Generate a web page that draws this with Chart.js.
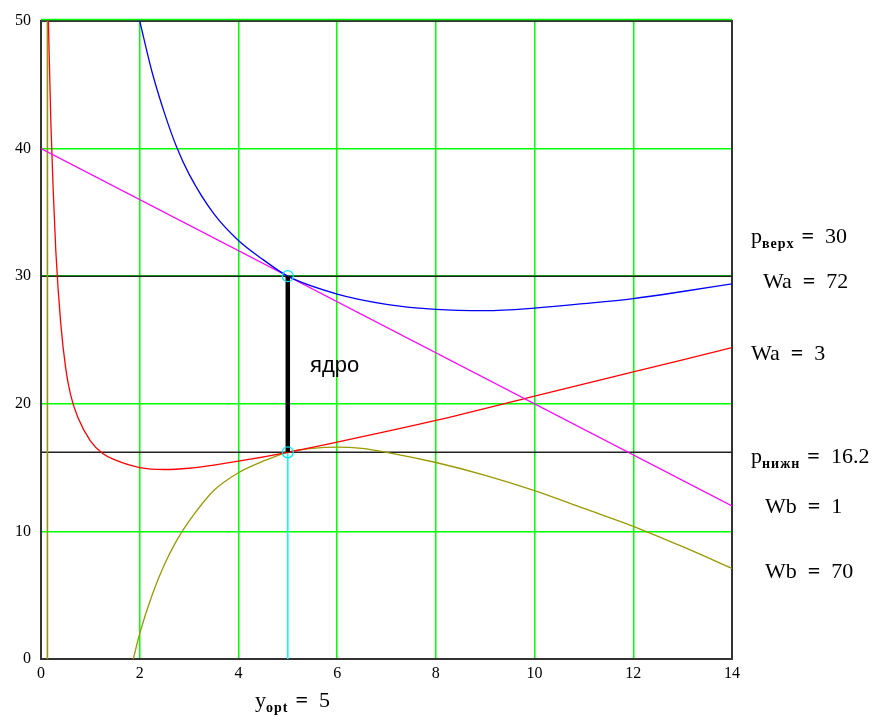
<!DOCTYPE html>
<html>
<head>
<meta charset="utf-8">
<script src="https://cdn.jsdelivr.net/npm/chart.js@4.4.1/dist/chart.umd.min.js"></script>
<style>
  html, body { margin: 0; padding: 0; background: #ffffff; }
  #wrap { width: 874px; height: 717px; position: relative; }
</style>
</head>
<body>
<div id="wrap"><canvas id="c" width="874" height="717"></canvas></div>
<script>
// ---- data ----
const xTicks = [0, 2, 4, 6, 8, 10, 12, 14];
const yTicks = [0, 10, 20, 30, 40, 50];

const blueX = [2.0, 2.25, 2.5, 2.75, 3.0, 3.5, 4.0, 4.5, 5.0, 6.0, 7.0, 8.0, 9.0, 10.0, 11.0, 12.0, 13.0, 14.0];
const blueY = [50, 46.0, 42.8, 40.1, 38.0, 34.9, 32.8, 31.3, 30.0, 28.6, 27.8, 27.4, 27.3, 27.5, 27.85, 28.25, 28.8, 29.4];

const magentaX = [0, 14];
const magentaY = [40, 12];

const redX = [0.15, 0.2, 0.25, 0.3, 0.4, 0.5, 0.6, 0.75, 1.0, 1.25, 1.5, 2.0, 2.5, 3.0, 3.5, 4.0, 5.0, 6.0, 8.0, 10.0, 12.0, 14.0];
const redY = [50, 42, 36.5, 32, 26.3, 22.8, 20.7, 18.9, 17.1, 16.1, 15.6, 15.0, 14.85, 14.95, 15.2, 15.5, 16.2, 17.0, 18.7, 20.6, 22.5, 24.4];

const oliveVertX = [0.13, 0.13];
const oliveVertY = [0, 50];

const oliveX = [1.87, 2.0, 2.25, 2.5, 2.75, 3.0, 3.5, 4.0, 4.5, 5.0, 5.5, 6.0, 6.5, 7.0, 8.0, 9.0, 10.0, 11.0, 12.0, 13.0, 14.0];
const oliveY = [0, 2.0, 5.0, 7.4, 9.3, 10.8, 13.2, 14.6, 15.5, 16.2, 16.5, 16.6, 16.5, 16.2, 15.4, 14.4, 13.2, 11.8, 10.4, 8.8, 7.1];

const pUpper = 30;
const pLower = 16.2;
const yOpt = 5;
const lineRange = [0, 14];

const pts = (xs, ys) => xs.map((x, i) => ({ x: x, y: ys[i] }));

// ---- text annotations ----
const SERIF = '"Liberation Serif", "Times New Roman", serif';
const SP = '\u2002';
function setLS(ctx, v) { if ('letterSpacing' in ctx) ctx.letterSpacing = v; }
function drawEq(ctx, x, y, left, right) {
  // left part, bold "=", right part
  ctx.font = '22px ' + SERIF;
  ctx.fillText(left + SP, x, y);
  let w = ctx.measureText(left + SP).width;
  ctx.font = 'bold 22px ' + SERIF;
  ctx.fillText('=', x + w, y);
  w += ctx.measureText('=').width;
  ctx.font = '22px ' + SERIF;
  ctx.fillText(SP + right, x + w, y);
}
function drawSub(ctx, x, y, main, sub, right) {
  ctx.font = '22px ' + SERIF;
  setLS(ctx, '0px');
  ctx.fillText(main, x, y);
  let w = ctx.measureText(main).width;
  ctx.font = 'bold 14px ' + SERIF;
  setLS(ctx, '1px');
  ctx.fillText(sub, x + w, y + 5);
  w += ctx.measureText(sub).width;
  setLS(ctx, '0px');
  drawEq(ctx, x + w - 4, y, '', right);
}

const annotPlugin = {
  id: 'annot',
  beforeDatasetsDraw(chart) {
    const { ctx, chartArea: a } = chart;
    ctx.save();
    ctx.strokeStyle = '#333333';
    ctx.lineWidth = 2;
    ctx.strokeRect(a.left, a.top, a.right - a.left, a.bottom - a.top);
    ctx.strokeStyle = '#00ff00';
    ctx.lineWidth = 1.5;
    ctx.beginPath();
    ctx.moveTo(a.left, a.top - 1.5);
    ctx.lineTo(a.right, a.top - 1.5);
    ctx.stroke();
    ctx.restore();
  },
  afterDraw(chart) {
    const { ctx } = chart;
    ctx.save();
    ctx.fillStyle = '#000000';
    ctx.textBaseline = 'alphabetic';
    ctx.textAlign = 'left';
    drawSub(ctx, 751, 243, 'p', 'верх', '30');
    drawEq(ctx, 763, 288, 'Wa', '72');
    drawEq(ctx, 751, 360, 'Wa', '3');
    drawSub(ctx, 751, 463, 'p', 'нижн', '16.2');
    drawEq(ctx, 765, 513, 'Wb', '1');
    drawEq(ctx, 765, 578, 'Wb', '70');
    drawSub(ctx, 255, 707, 'y', 'opt', '5');
    ctx.font = '22px "Liberation Sans", Arial, sans-serif';
    ctx.fillText('ядро', 310, 372);
    ctx.restore();
  }
};

const base = { fill: false, pointRadius: 0, showLine: true, borderWidth: 1.3 };

new Chart(document.getElementById('c'), {
  type: 'scatter',
  data: {
    datasets: [
      { ...base, label: 'circles', data: [{ x: yOpt, y: pUpper }, { x: yOpt, y: pLower }], showLine: false,
        pointRadius: 5.5, pointStyle: 'circle', pointBorderColor: '#00e5ff', pointBackgroundColor: 'rgba(0,0,0,0)', pointBorderWidth: 1.3 },
      { ...base, label: 'core', data: [{ x: yOpt, y: pLower }, { x: yOpt, y: pUpper }], borderColor: '#000000', borderWidth: 4.5 },
      { ...base, label: 'blue', data: pts(blueX, blueY), borderColor: '#0000ff', cubicInterpolationMode: 'monotone' },
      { ...base, label: 'magenta', data: pts(magentaX, magentaY), borderColor: '#ff00ff' },
      { ...base, label: 'red', data: pts(redX, redY), borderColor: '#ff0000', cubicInterpolationMode: 'monotone' },
      { ...base, label: 'olive', data: pts(oliveX, oliveY), borderColor: '#999900', cubicInterpolationMode: 'monotone' },
      { ...base, label: 'oliveV', data: pts(oliveVertX, oliveVertY), borderColor: '#999900', borderWidth: 1.6 },
      { ...base, label: 'pUp', data: [{ x: lineRange[0], y: pUpper }, { x: lineRange[1], y: pUpper }], borderColor: '#222222', borderWidth: 1.6 },
      { ...base, label: 'pLow', data: [{ x: lineRange[0], y: pLower }, { x: lineRange[1], y: pLower }], borderColor: '#222222', borderWidth: 1.6 },
      { ...base, label: 'cyan', data: [{ x: yOpt, y: 0 }, { x: yOpt, y: pLower }], borderColor: '#00ffff', borderWidth: 1.6 }
    ]
  },
  options: {
    responsive: false,
    animation: false,
    devicePixelRatio: 1,
    layout: { padding: { left: 0, top: 21, right: 142, bottom: 0 } },
    plugins: { legend: { display: false }, tooltip: { enabled: false } },
    scales: {
      x: {
        type: 'linear', min: 0, max: 14,
        afterBuildTicks: (s) => { s.ticks = xTicks.map(v => ({ value: v })); },
        afterFit: (s) => { s.height = 58; },
        ticks: { color: '#000000', padding: 5, font: { family: SERIF, size: 16 } },
        grid: { drawTicks: false, lineWidth: 1.5,
          color: (c) => (c.tick && (c.tick.value === 0 || c.tick.value === 14)) ? 'rgba(0,0,0,0)' : '#00ff00' },
        border: { display: false }
      },
      y: {
        type: 'linear', min: 0, max: 50,
        afterBuildTicks: (s) => { s.ticks = yTicks.map(v => ({ value: v })); },
        afterFit: (s) => { s.width = 41; },
        ticks: { color: '#000000', padding: 10, font: { family: SERIF, size: 16 } },
        grid: { drawTicks: false, lineWidth: 1.5,
          color: (c) => (c.tick && c.tick.value === 0) ? 'rgba(0,0,0,0)' : '#00ff00' },
        border: { display: false }
      }
    }
  },
  plugins: [annotPlugin]
});
</script>
</body>
</html>
